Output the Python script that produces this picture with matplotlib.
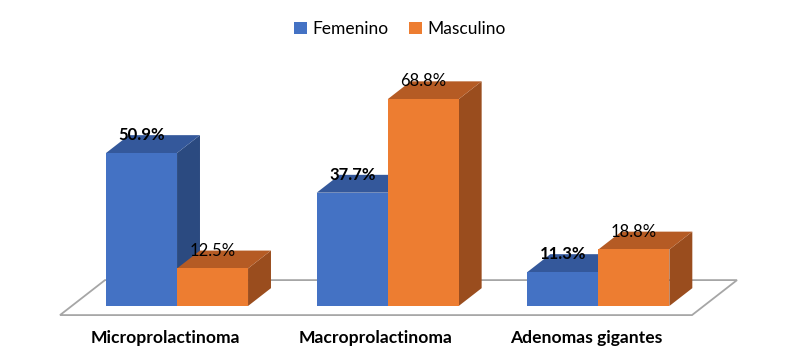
import matplotlib.pyplot as plt
from matplotlib.patches import Polygon, Patch

categories = ["Microprolactinoma", "Macroprolactinoma", "Adenomas gigantes"]
series = ["Femenino", "Masculino"]
femenino = [50.9, 37.7, 11.3]
masculino = [12.5, 68.8, 18.8]

plt.rcParams['font.family'] = ['Lato', 'DejaVu Sans']

front_col = ["#4472C4", "#ED7D31"]
top_col = ["#34589B", "#B55B24"]
side_col = ["#2B4A80", "#9A4D1E"]

# simple oblique projection: depth d in [0, 1] over the floor
DX, DY = 0.2136, 11.64
D_FRONT, D_BACK = 0.26, 0.77


def proj(u, v, d):
    return (u + d * DX, v + (d - D_FRONT) * DY)


fig = plt.figure(figsize=(8, 3.64), dpi=100)
ax = fig.add_axes([0, 0, 1, 1])
ax.set_xlim(-0.2848, 3.5126)
ax.set_ylim(-19.3, 101.8)
ax.axis("off")

# floor
floor = [proj(0, 0, 0), proj(3, 0, 0), proj(3, 0, 1), proj(0, 0, 1)]
ax.add_patch(Polygon(floor, closed=True, facecolor="white",
                     edgecolor="#A6A6A6", lw=1.3, zorder=1))

bar_w = 0.337
left0 = 0.5 - bar_w
z = 2
for i, cat in enumerate(categories):
    for s, vals in enumerate([femenino, masculino]):
        v = vals[i]
        x0 = i + left0 + s * bar_w
        x1 = x0 + bar_w
        front = [proj(x0, 0, D_FRONT), proj(x1, 0, D_FRONT),
                 proj(x1, v, D_FRONT), proj(x0, v, D_FRONT)]
        top = [proj(x0, v, D_FRONT), proj(x1, v, D_FRONT),
               proj(x1, v, D_BACK), proj(x0, v, D_BACK)]
        side = [proj(x1, 0, D_FRONT), proj(x1, 0, D_BACK),
                proj(x1, v, D_BACK), proj(x1, v, D_FRONT)]
        ax.add_patch(Polygon(side, closed=True, facecolor=side_col[s], lw=0, zorder=z))
        ax.add_patch(Polygon(top, closed=True, facecolor=top_col[s], lw=0, zorder=z))
        ax.add_patch(Polygon(front, closed=True, facecolor=front_col[s], lw=0, zorder=z))
        z += 1
        lx = (x0 + x1) / 2 + D_FRONT * DX
        ly = v + (D_BACK - D_FRONT) * DY
        ax.text(lx, ly, f"{v:.1f}%", ha="center", va="center", fontsize=12,
                fontweight="bold" if s == 0 else "normal", color="black", zorder=20)
    # category label at the front edge of the floor
    ax.text(*proj(i + 0.5, -5.0, 0), cat, ha="center", va="top", fontsize=12.6,
            fontweight="bold", color="black")

handles = [Patch(facecolor=front_col[k], label=series[k]) for k in range(2)]
fig.legend(handles=handles, loc="upper center", bbox_to_anchor=(0.5, 0.985),
           ncol=2, frameon=False, fontsize=12.5, handlelength=0.75, handleheight=0.75,
           handletextpad=0.3, columnspacing=1.2)

fig.savefig("out.png", dpi=100)
